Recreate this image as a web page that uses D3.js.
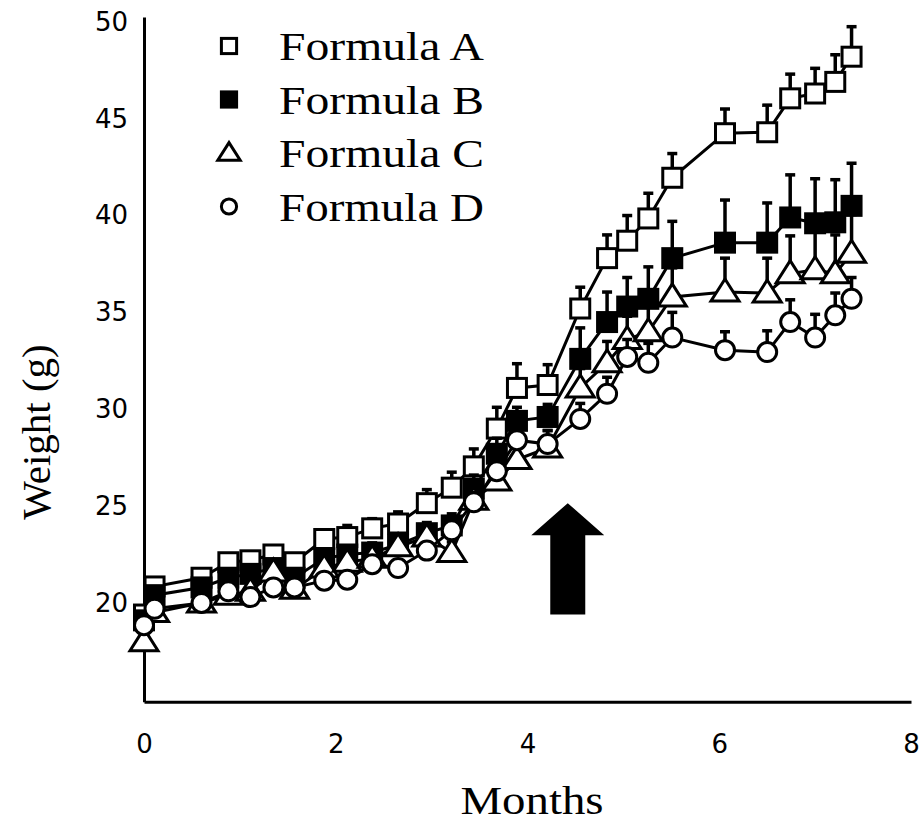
<!DOCTYPE html>
<html>
<head>
<meta charset="utf-8">
<script src="https://cdn.jsdelivr.net/npm/d3@7"></script>
<style>
  body { margin: 0; background: #fff; }
  svg { display: block; }
</style>
</head>
<body>
<svg width="920" height="823"></svg>
<script>
// values
var months   = [0, 0.11, 0.60, 0.88, 1.11, 1.35, 1.57, 1.88, 2.12, 2.38, 2.65, 2.95, 3.21, 3.44,
                3.68, 3.89, 4.21, 4.55, 4.83, 5.04, 5.26, 5.51, 6.06, 6.50, 6.74, 7.00, 7.21, 7.38];
var formulaA = [19.4, 20.85, 21.3, 22.1, 22.2, 22.5, 22.1, 23.3, 23.4, 23.85, 24.1, 25.15, 25.95, 27.05,
                29.0, 31.1, 31.25, 35.2, 37.8, 38.7, 39.85, 41.95, 44.25, 44.3, 46.05, 46.3, 46.9, 48.2];
var formulaB = [19.1, 20.4, 20.8, 21.3, 21.5, 21.8, 21.3, 22.3, 22.5, 22.6, 23.0, 23.6, 24.0, 25.9,
                27.7, 29.4, 29.6, 32.6, 34.5, 35.3, 35.7, 37.8, 38.6, 38.6, 39.9, 39.6, 39.65, 40.5];
var formulaC = [18.0, 19.5, 20.0, 20.4, 20.6, 21.6, 20.7, 21.8, 22.1, 22.3, 22.9, 23.4, 22.6, 25.3,
                26.3, 27.4, 28.0, 31.1, 32.4, 33.6, 34.0, 35.8, 36.05, 36.0, 37.0, 37.2, 37.0, 38.05];
var formulaD = [18.85, 19.7, 20.0, 20.6, 20.3, 20.8, 20.8, 21.15, 21.2, 22.0, 21.8, 22.7, 23.75, 25.2,
                26.8, 28.4, 28.2, 29.5, 30.8, 32.7, 32.4, 33.7, 33.05, 32.95, 34.5, 33.7, 34.85, 35.7];
// upper error bars
var errA = [0.3, 0.3, 0.3, 0.35, 0.35, 0.4, 0.35, 0.45, 0.6, 0.5, 0.6, 0.7, 0.8, 0.9,
            1.1, 1.25, 1.05, 1.1, 1.2, 1.3, 1.3, 1.25, 1.25, 1.4, 1.25, 1.3, 1.4, 1.55];
var errB = [0.3, 0.3, 0.35, 0.35, 0.35, 0.4, 0.4, 0.45, 0.45, 0.5, 0.5, 0.55, 0.6, 0.7,
            0.8, 0.7, 0.65, 1.6, 1.55, 1.5, 1.65, 1.9, 2.2, 2.05, 2.2, 2.3, 2.2, 2.2];
var errC = [0.3, 0.3, 0.3, 0.35, 0.35, 0.4, 0.4, 0.4, 0.45, 0.45, 0.5, 0.5, 0.55, 0.6,
            0.7, 0.8, 0.9, 1.0, 1.1, 1.2, 1.3, 1.5, 1.75, 1.8, 1.95, 2.0, 2.0, 2.0];
var errD = [0.25, 0.25, 0.3, 0.3, 0.3, 0.3, 0.3, 0.35, 0.35, 0.35, 0.4, 0.4, 0.45, 0.5,
            0.6, 0.65, 0.7, 0.8, 0.85, 0.9, 1.0, 1.3, 0.95, 1.1, 1.15, 1.2, 1.15, 1.1];

var seriesNames = ['Formula A', 'Formula B', 'Formula C', 'Formula D'];
var xTicks = [0, 2, 4, 6, 8];
var yTicks = [20, 25, 30, 35, 40, 45, 50];
// the big arrow: month, bottom, head base, tip
var arrowMonth = 4.42;
var arrowLevels = [19.4, 23.5, 25.15];

var svg = d3.select('svg');
var x = d3.scaleLinear().domain([0, 8]).range([144, 911]);
var y = d3.scaleLinear().domain([14.9, 50.25]).range([701.7, 17]);

// axes
var gx = svg.append('g')
  .attr('transform', 'translate(0,' + y(14.9) + ')')
  .call(d3.axisBottom(x).tickValues(xTicks).tickSize(0).tickSizeOuter(0).tickPadding(33));
var gy = svg.append('g')
  .attr('transform', 'translate(' + x(0) + ',0)')
  .call(d3.axisLeft(y).tickValues(yTicks).tickSize(0).tickSizeOuter(0).tickPadding(16));
[gx, gy].forEach(function(g) {
  g.select('.domain').attr('stroke', '#000').attr('stroke-width', 3);
  g.selectAll('text')
    .attr('fill', '#000')
    .style('font-family', '"DejaVu Sans", sans-serif')
    .style('font-size', '26px');
});

svg.append('text')
  .attr('transform', 'translate(50,432) rotate(-90)')
  .attr('text-anchor', 'middle')
  .style('font-family', '"Liberation Serif", serif')
  .style('font-size', '41px')
  .text('Weight (g)');

svg.append('text')
  .attr('x', 532).attr('y', 814)
  .attr('text-anchor', 'middle')
  .attr('textLength', 143).attr('lengthAdjust', 'spacingAndGlyphs')
  .style('font-family', '"Liberation Serif", serif')
  .style('font-size', '40px')
  .text('Months');

// arrow
var ax = x(arrowMonth);
svg.append('path')
  .attr('d', 'M' + (ax - 17.5) + ',' + y(arrowLevels[0]) +
    'L' + (ax - 17.5) + ',' + y(arrowLevels[1]) +
    'L' + (ax - 36.5) + ',' + y(arrowLevels[1]) +
    'L' + ax + ',' + y(arrowLevels[2]) +
    'L' + (ax + 36.5) + ',' + y(arrowLevels[1]) +
    'L' + (ax + 17.5) + ',' + y(arrowLevels[1]) +
    'L' + (ax + 17.5) + ',' + y(arrowLevels[0]) + 'Z')
  .attr('fill', '#000');

function marker(g, shape, fill, k) {
  k = k || 1;
  if (shape == 'square') {
    g.append('rect').attr('x', -9.5 * k).attr('y', -9.5 * k).attr('width', 19 * k).attr('height', 19 * k);
  } else if (shape == 'triangle') {
    g.append('path').attr('d', 'M0,' + (-13 * k) + 'L' + (14 * k) + ',' + (9 * k) + 'L' + (-14 * k) + ',' + (9 * k) + 'Z');
  } else {
    g.append('circle').attr('r', 9.5 * k);
  }
  g.selectAll('*').attr('fill', fill).attr('stroke', '#000').attr('stroke-width', 3)
    .attr('stroke-linejoin', 'miter');
}

var series = [
  {name: seriesNames[0], values: formulaA, err: errA, shape: 'square', fill: '#fff'},
  {name: seriesNames[1], values: formulaB, err: errB, shape: 'square', fill: '#000'},
  {name: seriesNames[2], values: formulaC, err: errC, shape: 'triangle', fill: '#fff'},
  {name: seriesNames[3], values: formulaD, err: errD, shape: 'circle', fill: '#fff'}
];

var line = d3.line()
  .x(function(d) { return x(d.m); })
  .y(function(d) { return y(d.v); });

series.forEach(function(s) {
  var pts = months.map(function(m, i) { return {m: m, v: s.values[i], e: s.err[i]}; });
  var g = svg.append('g');
  g.append('path').datum(pts)
    .attr('d', line)
    .attr('fill', 'none')
    .attr('stroke', '#000')
    .attr('stroke-width', 3);
  g.selectAll('line.bar').data(pts).enter().append('line')
    .attr('x1', function(d) { return x(d.m); })
    .attr('x2', function(d) { return x(d.m); })
    .attr('y1', function(d) { return y(d.v); })
    .attr('y2', function(d) { return y(d.v + d.e); })
    .attr('stroke', '#000').attr('stroke-width', 3.5);
  g.selectAll('line.cap').data(pts).enter().append('line')
    .attr('x1', function(d) { return x(d.m) - 5; })
    .attr('x2', function(d) { return x(d.m) + 5; })
    .attr('y1', function(d) { return y(d.v + d.e); })
    .attr('y2', function(d) { return y(d.v + d.e); })
    .attr('stroke', '#000').attr('stroke-width', 3.5);
  g.selectAll('g.pt').data(pts).enter().append('g')
    .attr('transform', function(d) { return 'translate(' + x(d.m) + ',' + y(d.v) + ')'; })
    .each(function() { marker(d3.select(this), s.shape, s.fill); });
});

// legend
var legend = svg.append('g');
series.forEach(function(s, i) {
  var ly = 46 + i * 53.5;
  var m = legend.append('g').attr('transform', 'translate(229,' + ly + ')');
  marker(m, s.shape, s.fill, 0.8);
  legend.append('text')
    .attr('x', 279).attr('y', ly + 14)
    .attr('textLength', 205).attr('lengthAdjust', 'spacingAndGlyphs')
    .style('font-family', '"Liberation Serif", serif')
    .style('font-size', '40px')
    .attr('fill', '#000')
    .text(s.name);
});
</script>
</body>
</html>
